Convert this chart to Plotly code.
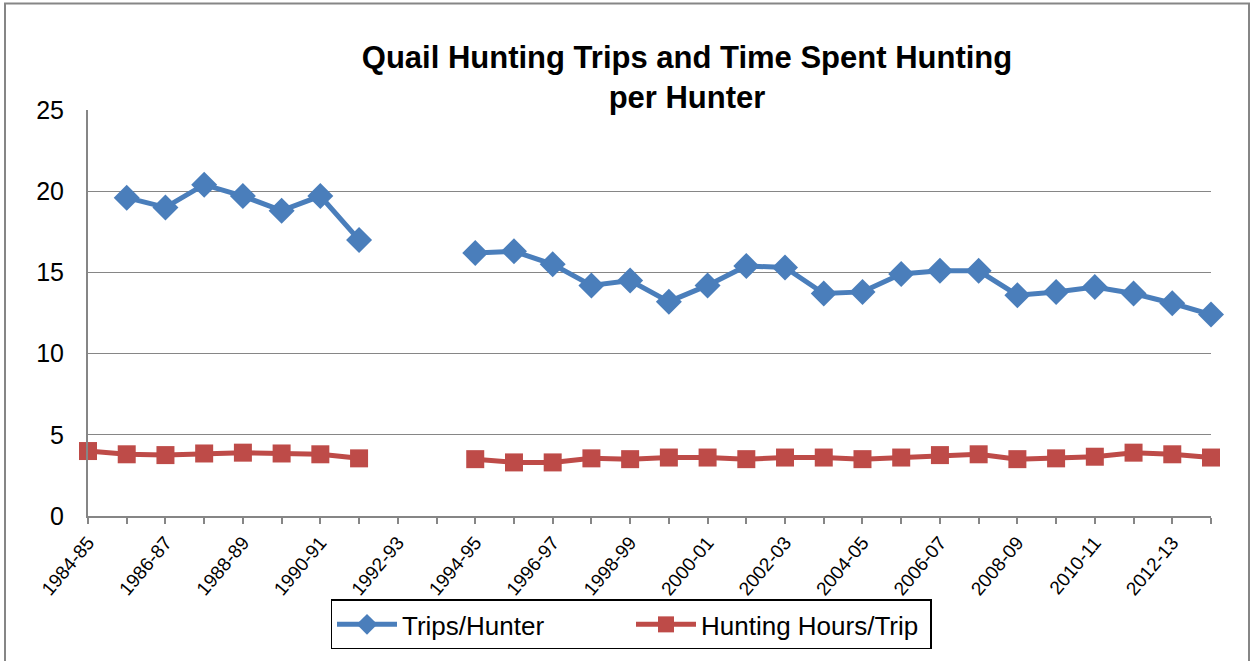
import plotly.graph_objects as go

categories = ["1984-85","1985-86","1986-87","1987-88","1988-89","1989-90","1990-91","1991-92",
              "1992-93","1993-94","1994-95","1995-96","1996-97","1997-98","1998-99","1999-00",
              "2000-01","2001-02","2002-03","2003-04","2004-05","2005-06","2006-07","2007-08",
              "2008-09","2009-10","2010-11","2011-12","2012-13","2013-14"]
trips_per_hunter = [None, 19.6, 19.0, 20.4, 19.7, 18.8, 19.7, 17.0,
                    None, None, 16.2, 16.3, 15.5, 14.2, 14.5, 13.2,
                    14.2, 15.4, 15.3, 13.7, 13.8, 14.9, 15.1, 15.1,
                    13.6, 13.8, 14.1, 13.7, 13.1, 12.4]
hours_per_trip = [4.0, 3.8, 3.75, 3.85, 3.9, 3.85, 3.8, 3.55,
                  None, None, 3.5, 3.3, 3.3, 3.55, 3.5, 3.6,
                  3.6, 3.5, 3.6, 3.6, 3.5, 3.6, 3.75, 3.8,
                  3.5, 3.55, 3.65, 3.9, 3.8, 3.6]
y_ticks = [0, 5, 10, 15, 20, 25]

x_idx = list(range(len(categories)))
FONT = "Liberation Sans, Arial, sans-serif"
BLUE = "#4A7EBB"
RED = "#BE4B48"

fig = go.Figure()
fig.add_trace(go.Scatter(x=x_idx, y=trips_per_hunter, name="Trips/Hunter", mode="lines+markers",
                         line=dict(color=BLUE, width=5), cliponaxis=False,
                         marker=dict(symbol="diamond", size=20, color=BLUE)))
fig.add_trace(go.Scatter(x=x_idx, y=hours_per_trip, name="Hunting Hours/Trip", mode="lines+markers",
                         line=dict(color=RED, width=5), cliponaxis=False,
                         marker=dict(symbol="square", size=18, color=RED)))

W, H = 1250, 661
L, R, T, B = 88, 1211, 110, 518
def px_x(p): return (p - L) / (R - L)
def px_y(p): return (B - p) / (B - T)

fig.update_layout(
    width=W, height=H,
    margin=dict(l=L, r=W - R, t=T, b=H - B),
    paper_bgcolor="white", plot_bgcolor="white",
    font=dict(family=FONT, color="black"),
    title=dict(text="<b>Quail Hunting Trips and Time Spent Hunting<br>per Hunter</b>",
               x=px_x(687), xref="paper", xanchor="center",
               y=1 - 68 / H, yref="container", yanchor="middle",
               font=dict(size=31, family=FONT, color="black")),
    showlegend=True,
    legend=dict(orientation="h", x=px_x(631), xanchor="center", y=px_y(627), yanchor="middle",
                bordercolor="black", borderwidth=1.5, bgcolor="white",
                font=dict(size=26, family=FONT, color="black"),
                itemwidth=60, entrywidth=224, traceorder="normal"),
    xaxis=dict(range=[0, len(categories) - 1],
               tickmode="array", tickvals=x_idx[::2], ticktext=categories[::2],
               tickangle=-50, tickfont=dict(size=19, family=FONT, color="black"),
               showgrid=False, zeroline=False,
               showline=True, linecolor="#868686", linewidth=2,
               ticks="outside", ticklen=6, tickcolor="#868686", tickwidth=1.5,
               minor=dict(dtick=1, tick0=0, ticks="outside", ticklen=6, tickcolor="#868686", tickwidth=1.5)),
    yaxis=dict(range=[0, 25], tickmode="array", tickvals=y_ticks,
               tickfont=dict(size=25, family=FONT, color="black"),
               showgrid=True, gridcolor="#868686", gridwidth=1,
               zeroline=False, showline=True, linecolor="#868686", linewidth=2,
               ticks="", ticklabelstandoff=17),
    shapes=[dict(type="rect", xref="paper", yref="paper",
                 x0=px_x(5), x1=px_x(1249), y0=px_y(700), y1=px_y(3),
                 line=dict(color="#868686", width=2), layer="below")],
)

fig.write_html("out.html", config={"displayModeBar": False},
               post_script="document.body.style.margin='0';")
